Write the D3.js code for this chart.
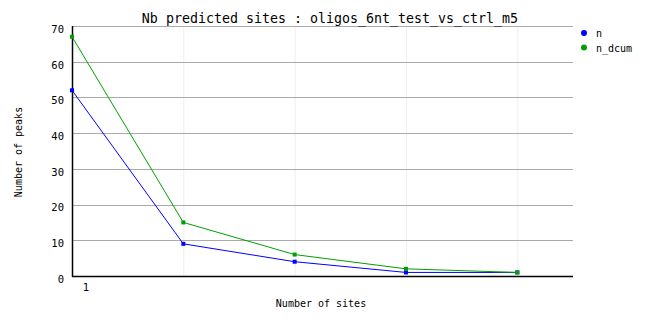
<!DOCTYPE html>
<html>
<head>
<meta charset="utf-8">
<script src="https://cdn.jsdelivr.net/npm/d3@7"></script>
<style>
  body { margin: 0; background: #fff; }
  svg text { font-family: "DejaVu Sans Mono", "Liberation Mono", monospace; fill: #000; }
</style>
</head>
<body>
<div id="vis"></div>
<script>
// Chart data
var title = 'Nb predicted sites : oligos_6nt_test_vs_ctrl_m5';
var sites = [1, 2, 3, 4, 5];
var nValues = [52, 9, 4, 1, 1];
var nDcumValues = [67, 15, 6, 2, 1];
var seriesNames = ['n', 'n_dcum'];
var yTicks = [0, 10, 20, 30, 40, 50, 60, 70];
var xTickLabels = ['1'];

var width = 662, height = 328;
var margin = { top: 26, right: 89, bottom: 52, left: 72 };
var drawWidth = width - margin.left - margin.right;
var drawHeight = height - margin.top - margin.bottom;
var colors = ['#0000ff', '#00a000'];

var svg = d3.select('#vis').append('svg')
    .attr('width', width)
    .attr('height', height);

var g = svg.append('g')
    .attr('transform', `translate(${margin.left},${margin.top})`);

var xScale = d3.scaleLinear().domain([1, 5.5]).range([0, drawWidth]);
var yScale = d3.scaleLinear().domain([0, 70]).range([drawHeight, 0]);

// vertical light grid
g.selectAll('.vgrid').data(sites.slice(1))
    .enter().append('line')
    .attr('x1', d => xScale(d) + 0.5).attr('x2', d => xScale(d) + 0.5)
    .attr('y1', 0).attr('y2', drawHeight)
    .attr('stroke', '#eeeeee');

// horizontal grid
g.selectAll('.hgrid').data(yTicks.slice(1))
    .enter().append('line')
    .attr('x1', 0).attr('x2', drawWidth)
    .attr('y1', d => Math.round(yScale(d)) + 0.5).attr('y2', d => Math.round(yScale(d)) + 0.5)
    .attr('stroke', '#aaaaaa');

// y axis
var yAxis = d3.axisLeft(yScale).tickValues(yTicks).tickSize(0).tickPadding(8);
g.append('g').call(yAxis)
    .call(s => s.select('.domain').remove())
    .selectAll('text').style('font-size', '10.5px').attr('dy', '0.6em');
g.append('line').attr('x1', 0.5).attr('x2', 0.5).attr('y1', 0).attr('y2', drawHeight + 1)
    .attr('stroke', '#000').attr('stroke-width', 1.5);
g.append('line').attr('x1', 0).attr('x2', drawWidth).attr('y1', drawHeight + 0.5).attr('y2', drawHeight + 0.5)
    .attr('stroke', '#000').attr('stroke-width', 1.5);

// x tick label
g.selectAll('.xlab').data(xTickLabels)
    .enter().append('text')
    .attr('x', (d, i) => xScale(+d) + 14)
    .attr('y', drawHeight + 15)
    .attr('text-anchor', 'middle')
    .style('font-size', '10.5px')
    .text(d => d);

// lines and markers
var line = d3.line().x((d, i) => xScale(sites[i])).y(d => yScale(d));
[nValues, nDcumValues].forEach(function(vals, k) {
    g.append('path').datum(vals)
        .attr('d', line)
        .attr('fill', 'none')
        .attr('stroke', colors[k])
        .attr('stroke-width', 1);
    g.selectAll('.m' + k).data(vals)
        .enter().append('rect')
        .attr('x', (d, i) => xScale(sites[i]) - 2)
        .attr('y', d => yScale(d) - 2)
        .attr('width', 4).attr('height', 4)
        .attr('fill', colors[k]);
});

// title
svg.append('text')
    .attr('x', 330).attr('y', 23)
    .attr('text-anchor', 'middle')
    .style('font-size', '13.3px')
    .text(title);

// axis labels
svg.append('text')
    .attr('x', 321).attr('y', 307)
    .attr('text-anchor', 'middle')
    .style('font-size', '10px')
    .text('Number of sites');
svg.append('text')
    .attr('transform', 'translate(22,152) rotate(-90)')
    .attr('text-anchor', 'middle')
    .style('font-size', '10px')
    .text('Number of peaks');

// legend
var legend = svg.append('g').attr('transform', 'translate(584,33)');
seriesNames.forEach(function(name, i) {
    legend.append('circle').attr('cx', 0).attr('cy', i * 14.5).attr('r', 3).attr('fill', colors[i]);
    legend.append('text').attr('x', 12).attr('y', i * 14.5 + 4)
        .style('font-size', '10px').text(name);
});
</script>
</body>
</html>
